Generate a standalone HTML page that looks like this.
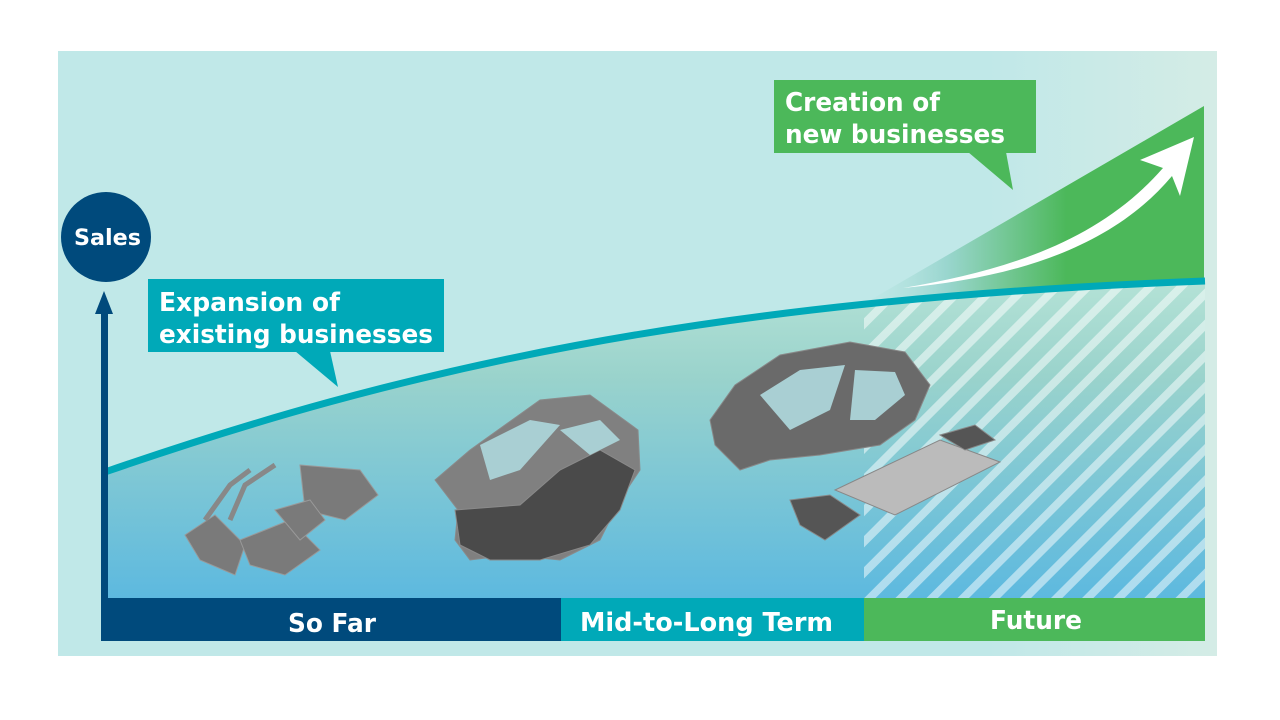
<!DOCTYPE html>
<html><head><meta charset="utf-8"><style>
html,body{margin:0;padding:0;background:#fff;width:1280px;height:720px;overflow:hidden}
svg{display:block}
text{font-family:"DejaVu Sans","Liberation Sans",sans-serif;font-weight:bold}
</style></head><body>
<svg width="1280" height="720" viewBox="0 0 1280 720">
<defs>
<linearGradient id="under" x1="0" y1="0" x2="0" y2="1">
<stop offset="0" stop-color="#b4e2d6"/><stop offset="0.3" stop-color="#9ad3cc"/><stop offset="1" stop-color="#5db9df"/>
</linearGradient>
<linearGradient id="tri" x1="0" y1="0" x2="1" y2="0">
<stop offset="0" stop-color="#bfe8e6" stop-opacity="0.3"/><stop offset="0.25" stop-color="#9ad6cf"/><stop offset="0.6" stop-color="#4cb85a"/><stop offset="1" stop-color="#4cb85a"/>
</linearGradient>
<pattern id="hatch" width="22" height="22" patternUnits="userSpaceOnUse" patternTransform="rotate(45)">
<rect x="0" y="0" width="8" height="22" fill="#ffffff" fill-opacity="0.5"/>
</pattern>
<linearGradient id="bg" x1="0" y1="0" x2="1" y2="0">
<stop offset="0" stop-color="#c0e8e8"/><stop offset="0.8" stop-color="#c0e8e8"/><stop offset="1" stop-color="#d4ece6"/>
</linearGradient>
</defs>
<rect x="58" y="51" width="1159" height="605" fill="url(#bg)"/>
<path d="M105,472 C400,370 700,300 1205,281 L1205,598 L105,598 Z" fill="url(#under)"/>
<path d="M864,305 C950,295 1080,285 1205,281 L1205,598 L864,598 Z" fill="url(#hatch)"/>
<path d="M860,306 L1204,106 L1204,280 C1080,284 960,293 860,306 Z" fill="url(#tri)"/>
<path d="M105,472 C400,370 700,300 1205,281" fill="none" stroke="#00a9b8" stroke-width="7"/>
<path d="M903,288 C1010,278 1110,250 1172,176 L1180,196 L1194,137 L1140,160 L1163,168 C1100,240 1010,270 903,288 Z" fill="#fff"/>
<rect x="101" y="305" width="7" height="295" fill="#004a7c"/>
<polygon points="104,291 95,314 113,314" fill="#004a7c"/>
<circle cx="106" cy="237" r="45" fill="#004a7c"/>
<text x="74" y="245" font-size="22" fill="#fff" textLength="67" lengthAdjust="spacingAndGlyphs">Sales</text>
<g fill="#7a7a7a" stroke="#999" stroke-width="1">
<polygon points="185,535 215,515 245,545 235,575 200,560"/>
<polygon points="240,540 290,520 320,550 285,575 250,565"/>
<polygon points="300,465 360,470 378,495 345,520 305,510"/>
<polygon points="275,510 310,500 325,520 300,540"/>
<path d="M205,520 L230,485 L250,470" fill="none" stroke="#888" stroke-width="5"/>
<path d="M230,520 L245,485 L275,465" fill="none" stroke="#888" stroke-width="5"/>
</g>
<g fill="#5c5c5c" stroke="#8a8a8a" stroke-width="1">
<path d="M435,480 L470,450 L540,400 L590,395 L638,430 L640,470 L620,500 L600,540 L560,560 L510,555 L470,560 L455,540 L458,510 Z" fill="#808080"/>
<path d="M455,510 L520,505 L560,470 L600,450 L635,470 L620,510 L590,545 L540,560 L490,560 L460,545 Z" fill="#4a4a4a"/>
<path d="M480,445 L530,420 L560,425 L520,470 L490,480 Z" fill="#a9cfd3" stroke="none"/>
<path d="M560,430 L600,420 L620,440 L590,455 Z" fill="#a9cfd3" stroke="none"/>
</g>
<g fill="#6a6a6a" stroke="#888" stroke-width="1">
<path d="M710,420 L735,385 L780,355 L850,342 L905,352 L930,385 L915,420 L880,445 L820,455 L770,460 L740,470 L715,445 Z"/>
<path d="M760,395 L800,370 L845,365 L830,410 L790,430 Z" fill="#a9cfd3" stroke="none"/>
<path d="M855,370 L895,372 L905,395 L875,420 L850,420 Z" fill="#a9cfd3" stroke="none"/>
<polygon points="835,490 940,440 1000,462 895,515" fill="#bbb"/>
<polygon points="790,500 830,495 860,515 825,540 800,525" fill="#555"/>
<polygon points="940,435 975,425 995,440 965,450" fill="#555"/>
</g>
<rect x="101" y="598" width="460" height="43" fill="#004a7c"/>
<rect x="561" y="598" width="303" height="43" fill="#00a9b8"/>
<rect x="864" y="598" width="341" height="43" fill="#4cb85a"/>
<text x="288" y="632" font-size="26" fill="#fff" textLength="88" lengthAdjust="spacingAndGlyphs">So Far</text>
<text x="580" y="631" font-size="26" fill="#fff" textLength="253" lengthAdjust="spacingAndGlyphs">Mid-to-Long Term</text>
<text x="990" y="629" font-size="26" fill="#fff" textLength="92" lengthAdjust="spacingAndGlyphs">Future</text>
<rect x="148" y="279" width="296" height="73" fill="#00a9b8"/>
<polygon points="295,351 338,387 330,351" fill="#00a9b8"/>
<text x="159" y="311" font-size="26" fill="#fff" textLength="181" lengthAdjust="spacingAndGlyphs">Expansion of</text>
<text x="159" y="343" font-size="26" fill="#fff" textLength="274" lengthAdjust="spacingAndGlyphs">existing businesses</text>
<rect x="774" y="80" width="262" height="73" fill="#4cb85a"/>
<polygon points="968,152 1013,190 1006,152" fill="#4cb85a"/>
<text x="785" y="111" font-size="26" fill="#fff" textLength="155" lengthAdjust="spacingAndGlyphs">Creation of</text>
<text x="785" y="143" font-size="26" fill="#fff" textLength="220" lengthAdjust="spacingAndGlyphs">new businesses</text>
</svg>
</body></html>
